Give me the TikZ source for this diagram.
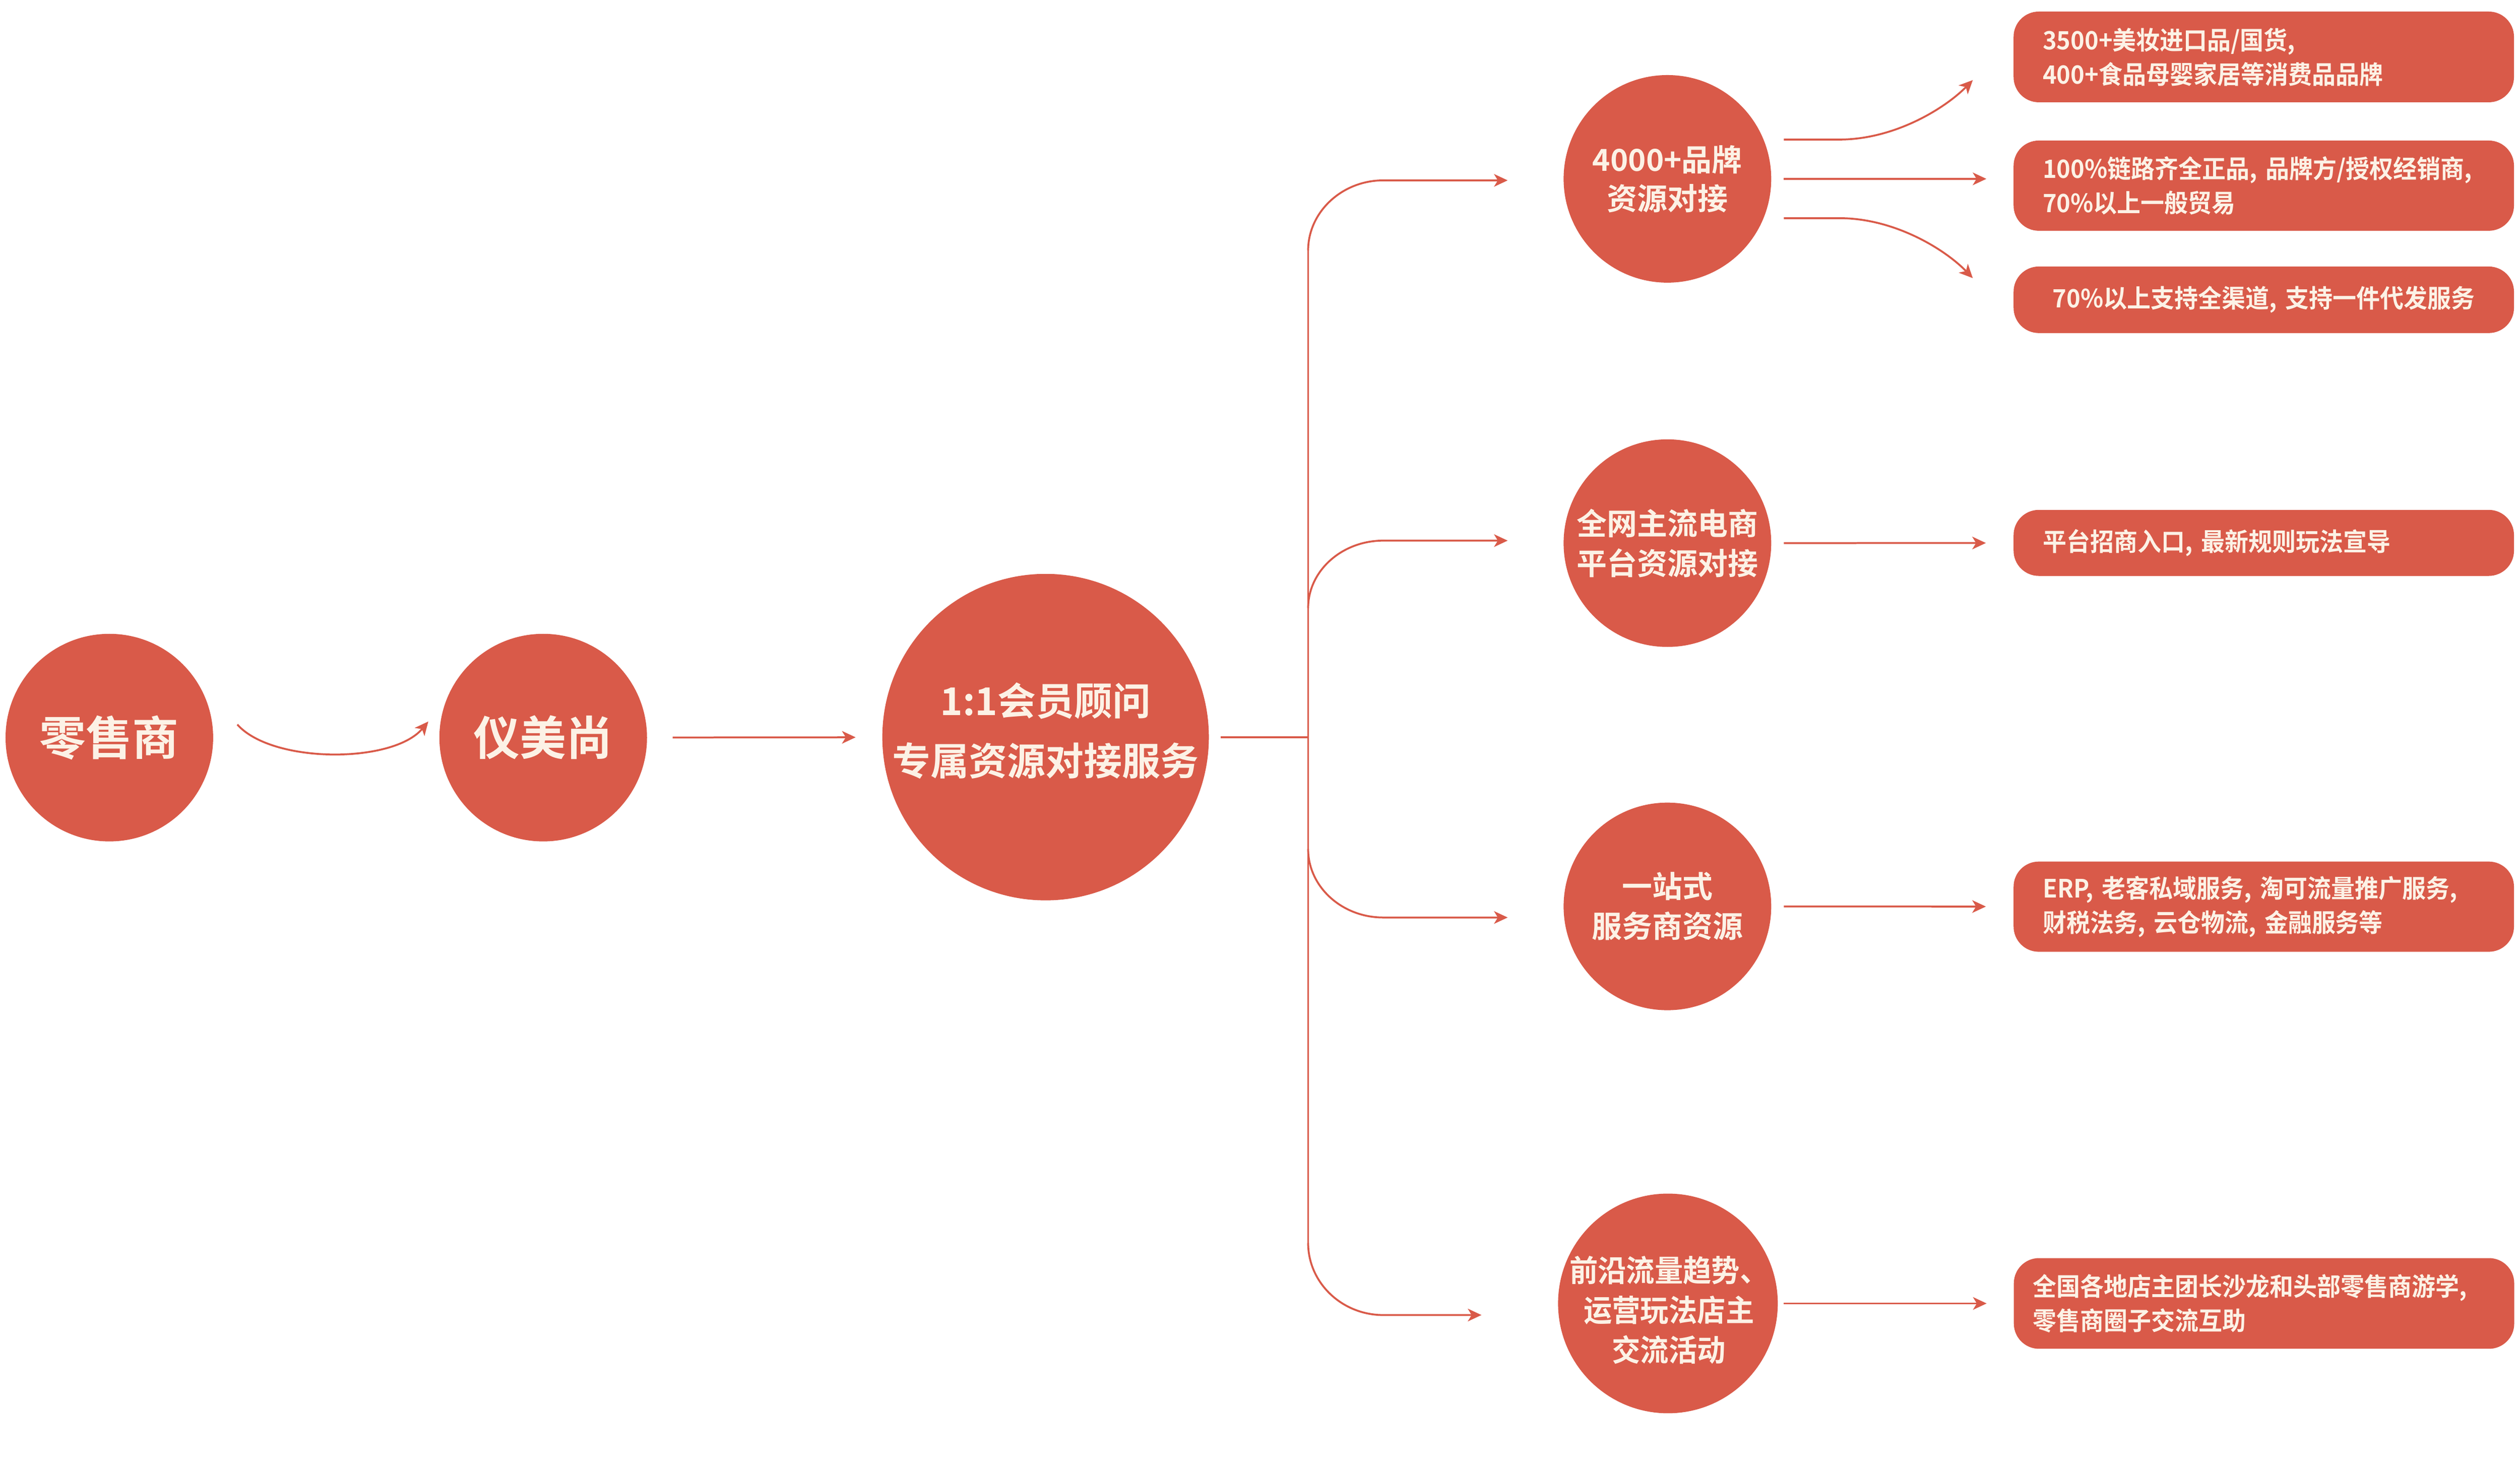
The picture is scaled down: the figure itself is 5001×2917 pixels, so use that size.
\documentclass[tikz,border=0pt]{standalone}
\usepackage{fontspec}
\setmainfont{Noto Sans CJK SC Bold}
\newfontfamily\narrowcjk{Noto Sans CJK SC Bold}[FakeStretch=0.94]
\usetikzlibrary{arrows.meta}
\definecolor{brick}{HTML}{D95A49}
\definecolor{cream}{HTML}{FCF2E6}
\begin{document}
\begin{tikzpicture}[x=0.2pt,y=-0.2pt,
  bub/.style={circle, fill=brick, text=cream, inner sep=0pt, align=center},
  card/.style={rounded corners=10pt, fill=brick, text=cream, inner xsep=11.6pt, inner ysep=0pt,
    text width=175.4pt, align=left, font=\narrowcjk\fontsize{10}{13.6}\selectfont},
  wire/.style={draw=brick, line width=0.75pt},
  link/.style={wire, -{Stealth[length=5.4pt,width=5pt,inset=1.5pt]}}]
\useasboundingbox (0,0) rectangle (5001,2917);

% circles
\node[bub, minimum size=82.4pt, font=\fontsize{18.4}{22}\selectfont] (ls) at (217,1464) {零售商};
\node[bub, minimum size=82.4pt, font=\fontsize{18.4}{22}\selectfont] (ym) at (1078,1464) {仪美尚};
\node[bub, minimum size=129.6pt] (hub) at (2075,1463) {};
\node[text=cream, align=center, font=\fontsize{15.2}{23.8}\selectfont] (hubt) at (2075,1450) {1:1会员顾问\\专属资源对接服务};
\node[bub, minimum size=82.4pt, font=\fontsize{12}{15.4}\selectfont] (c1) at (3309,355) {4000+品牌\\资源对接};
\node[bub, minimum size=82.4pt, font=\fontsize{12}{15.8}\selectfont] (c2) at (3309,1078) {全网主流电商\\平台资源对接};
\node[bub, minimum size=82.4pt, font=\fontsize{12}{15.8}\selectfont] (c3) at (3309,1799) {一站式\\服务商资源};
\node[bub, minimum size=87.2pt] (c4) at (3310,2587) {};
\node[text=cream, align=center, font=\narrowcjk\fontsize{12}{15.8}\selectfont] (c4t) at (3312,2600) {前沿流量趋势、\\运营玩法店主\\交流活动};

% cards
\node[card, minimum height=36pt] (b1) at (4492.5,113) {3500+美妆进口品/国货,\\400+食品母婴家居等消费品品牌};
\node[card, minimum height=35.8pt] (b2) at (4492.5,368.5) {100\%链路齐全正品, 品牌方/授权经销商,\\70\%以上一般贸易};
\node[card, minimum height=26.4pt, align=center] (b3) at (4492.5,595) {70\%以上支持全渠道, 支持一件代发服务};
\node[card, minimum height=26.2pt] (b4) at (4492.5,1077.5) {平台招商入口, 最新规则玩法宣导};
\node[card, minimum height=35.8pt] (b5) at (4492.5,1799.5) {ERP, 老客私域服务, 淘可流量推广服务,\\财税法务, 云仓物流, 金融服务等};
\node[card, minimum height=36pt, inner xsep=7.6pt, text width=183.4pt] (b6) at (4493,2587) {全国各地店主团长沙龙和头部零售商游学,\\零售商圈子交流互助};

% left connectors
\coordinate (lsout) at (471,1438);
\coordinate (ymin) at (850,1432);
\draw[link] (lsout) .. controls (540,1516) and (780,1516) .. (ymin);
\draw[link, shorten <=10pt, shorten >=10.4pt] (ym) -- (hub);

% trunk
\coordinate (t0) at (2596,1463);
\coordinate (tA) at (2596,497);
\coordinate (tB) at (2596,1207);
\coordinate (tC) at (2596,1685);
\coordinate (tD) at (2596,2467);
\draw[wire, shorten <=4.4pt] (hub) -- (t0);
\draw[wire] (tA) -- (tD);
\coordinate (e1) at (2992,358);
\coordinate (e2) at (2992,1073);
\coordinate (e3) at (2992,1821);
\coordinate (e4) at (2940,2610);
\draw[link] (tA) .. controls (2596,421) and (2663,358) .. (2745,358) -- (e1);
\draw[link] (tB) .. controls (2596,1133) and (2663,1073) .. (2745,1073) -- (e2);
\draw[link] (tC) .. controls (2596,1760) and (2663,1821) .. (2745,1821) -- (e3);
\draw[link] (tD) .. controls (2596,2546) and (2663,2610) .. (2745,2610) -- (e4);

% right connectors
\coordinate (u0) at (3540,277);
\coordinate (u1) at (3915,159);
\coordinate (d0) at (3540,433);
\coordinate (d1) at (3915,552);
\draw[link] (u0) -- (3650,277) .. controls (3760,277) and (3860,215) .. (u1);
\draw[link, shorten <=4.8pt] (c1.east) -- (c1.east -| 3942,0);
\draw[link] (d0) -- (3650,433) .. controls (3760,433) and (3860,495) .. (d1);
\draw[link, shorten <=4.8pt, shorten >=10.8pt] (c2) -- (b4);
\draw[link, shorten <=4.8pt, shorten >=10.8pt] (c3) -- (b5);
\draw[link, shorten <=2.2pt, shorten >=10.6pt] (c4) -- (b6);
\end{tikzpicture}
\end{document}
